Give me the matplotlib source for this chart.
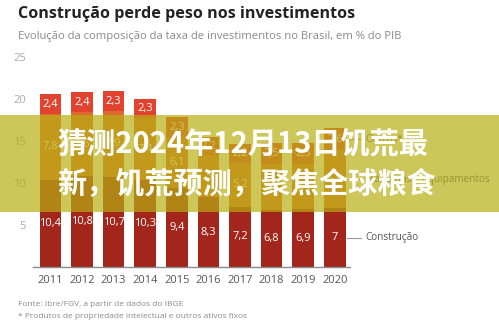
import matplotlib
matplotlib.use("Agg")
import matplotlib.pyplot as plt
from matplotlib.patches import Rectangle
import numpy as np

years = ["2011", "2012", "2013", "2014", "2015", "2016", "2017", "2018", "2019", "2020"]
construcao = [10.4, 10.8, 10.7, 10.3, 9.4, 8.3, 7.2, 6.8, 6.9, 7.0]
maquinas = [7.8, 7.6, 7.9, 7.4, 6.1, 5.0, 5.2, 5.5, 5.4, 6.9]
outros = [2.4, 2.4, 2.3, 2.3, 2.3, 2.2, 2.2, 2.5, 2.5, 2.6]
series_names = ["Construção", "Máquinas e equipamentos", "Outros*"]
yticks = [5, 10, 15, 20, 25]

title = "Construção perde peso nos investimentos"
subtitle = "Evolução da composição da taxa de investimentos no Brasil, em % do PIB"
source = "Fonte: Ibre/FGV, a partir de dados do IBGE"
note = "* Produtos de propriedade intelectual e outros ativos fixos"
overlay_lines = ["猜测2024年12月13日饥荒最", "新，饥荒预测，聚焦全球粮食"]

plt.rcParams['font.family'] = ['Open Sans', 'DejaVu Sans']

W, H = 499, 328
fig = plt.figure(figsize=(W / 100, H / 100), dpi=100)
ax = fig.add_axes([33 / W, 1 - 267 / H, (350 - 33) / W, (267 - 57) / H])

x = np.arange(len(years))
c_con, c_maq, c_out = "#a3261d", "#dc6a2c", "#e2432f"
bw = 0.68
b1 = ax.bar(x, construcao, bw, color=c_con)
b2 = ax.bar(x, maquinas, bw, bottom=construcao, color=c_maq)
bottom3 = np.array(construcao) + np.array(maquinas)
b3 = ax.bar(x, outros, bw, bottom=bottom3, color=c_out)

def fmt(v):
    s = ("%.1f" % v).replace(".", ",")
    return s[:-2] if s.endswith(",0") else s

for bars, vals in ((b1, construcao), (b2, maquinas), (b3, outros)):
    for rect, v in zip(bars, vals):
        ax.text(rect.get_x() + rect.get_width() / 2, rect.get_y() + rect.get_height() / 2,
                fmt(v), ha="center", va="center", color="white", fontsize=8)

ax.set_xlim(-0.55, 9.48)
ax.set_ylim(0, 25)
ax.set_yticks(yticks)
ax.set_yticklabels([str(t) for t in yticks])
ax.set_xticks(x)
ax.set_xticklabels(years)
ax.tick_params(axis="y", length=0, pad=5, labelcolor="#a8a8a8", labelsize=8)
ax.tick_params(axis="x", length=0, pad=6, labelcolor="#555555", labelsize=8)
for s in ("top", "right", "left"):
    ax.spines[s].set_visible(False)
ax.spines["bottom"].set_color("#8a8a8a")
ax.spines["bottom"].set_linewidth(1.0)

# right-side labels connected to last bar
last = len(years) - 1
mids = [construcao[last] / 2, construcao[last] + maquinas[last] / 2, bottom3[last] + outros[last] / 2]
x0 = last + bw / 2 + 0.05
for name, m in zip(series_names, mids):
    ax.plot([x0, x0 + 0.45], [m, m], color="#999999", lw=0.8, clip_on=False)
    ax.text(x0 + 0.58, m, name, ha="left", va="center", color="#555555", fontsize=7.2, clip_on=False)

fig.text(18 / W, 1 - 14 / H, title, ha="left", va="center", fontsize=11.6, fontweight="bold", color="#222222")
fig.text(18 / W, 1 - 36 / H, subtitle, ha="left", va="center", fontsize=8.1, color="#8a8a8a")
fig.text(18 / W, 1 - 304 / H, source, ha="left", va="center", fontsize=6.0, color="#8a8a8a")
fig.text(18 / W, 1 - 316 / H, note, ha="left", va="center", fontsize=6.0, color="#8a8a8a")

# overlay band
band = Rectangle((0, 1 - 212 / H), 1, (212 - 115) / H, transform=fig.transFigure,
                 facecolor="#b8ae13", alpha=0.7, edgecolor="none", zorder=10)
fig.add_artist(band)
for i, line in enumerate(overlay_lines):
    fig.text(57 / W, 1 - (145 + 39 * i) / H, line, ha="left", va="center", fontsize=21,
             fontweight="bold", color="white", zorder=11,
             family=["Noto Sans CJK SC", "DejaVu Sans"])

fig.savefig("out.png", dpi=100)
